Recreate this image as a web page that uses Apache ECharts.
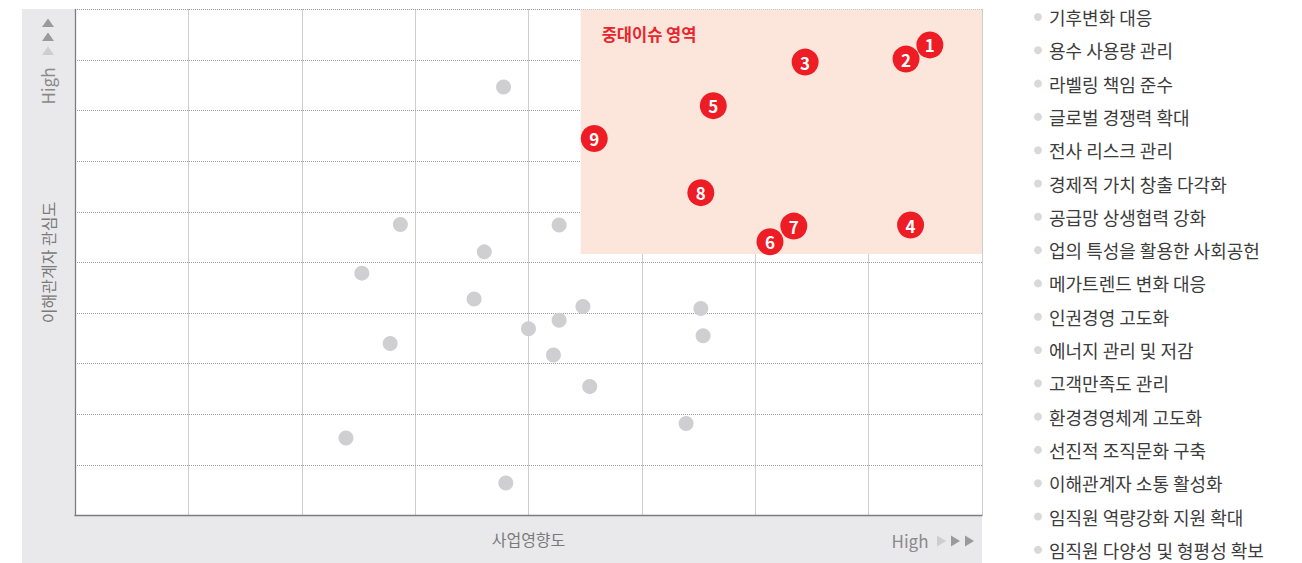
<!DOCTYPE html>
<html>
<head>
<meta charset="utf-8">
<script src="https://cdn.jsdelivr.net/npm/echarts@6/dist/echarts.min.js"></script>
<style>
html,body{margin:0;padding:0;background:#fff;}
#chart{width:1302px;height:563px;}
</style>
</head>
<body>
<div id="chart"></div>
<script>
// ---- data ----
const xAxisMax = 8;          // 8 columns
const yAxisMax = 10;         // 10 rows
const xAxisTitle = '사업영향도';
const yAxisTitle = '이해관계자 관심도';
const highLabel = 'High';
const focusLabel = '중대이슈 영역';

const issueNo = [1, 2, 3, 4, 5, 6, 7, 8, 9];
const issueX  = [7.54, 7.33, 6.44, 7.37, 5.63, 6.13, 6.34, 5.52, 4.58];
const issueY  = [9.30, 9.02, 8.96, 5.74, 8.10, 5.41, 5.72, 6.38, 7.45];

const otherX = [3.78, 2.87, 4.27, 3.61, 2.53, 3.52, 4.48, 5.52, 4.27, 4.00, 2.78, 5.54, 4.22, 4.54, 5.39, 2.39, 3.80];
const otherY = [8.47, 5.75, 5.74, 5.21, 4.79, 4.28, 4.13, 4.09, 3.86, 3.69, 3.40, 3.55, 3.17, 2.55, 1.82, 1.53, 0.64];

const focusFromX = 4.46;
const focusFromY = 5.17;

const legendNames = [
  '기후변화 대응', '용수 사용량 관리', '라벨링 책임 준수', '글로벌 경쟁력 확대',
  '전사 리스크 관리', '경제적 가치 창출 다각화', '공급망 상생협력 강화',
  '업의 특성을 활용한 사회공헌', '메가트렌드 변화 대응', '인권경영 고도화',
  '에너지 관리 및 저감', '고객만족도 관리', '환경경영체계 고도화',
  '선진적 조직문화 구축', '이해관계자 소통 활성화', '임직원 역량강화 지원 확대',
  '임직원 다양성 및 형평성 확보'
];

// ---- chart ----
const FONT = '"Noto Sans CJK KR", "Noto Sans", sans-serif';
const chart = echarts.init(document.getElementById('chart'), null, {renderer: 'svg'});

const issueData = issueNo.map((n, i) => [issueX[i], issueY[i], n]);
const otherData = otherX.map((x, i) => [x, otherY[i]]);

const legendSeries = legendNames.map(name => ({
  name: name, type: 'scatter', data: [], itemStyle: {color: '#cfcfd1'}
}));

const dark = '#9a9a9c', light = '#cdcdcf';

const option = {
  backgroundColor: 'transparent',
  animation: false,
  textStyle: {fontFamily: FONT},
  grid: {
    left: 75, top: 9.5, right: 320, bottom: 47.5,
    show: true, backgroundColor: '#ffffff', borderWidth: 0
  },
  xAxis: {
    type: 'value', min: 0, max: xAxisMax, interval: 1,
    name: xAxisTitle, nameLocation: 'middle', nameGap: 15,
    nameTextStyle: {color: '#7a7a7a', fontSize: 16, fontFamily: FONT},
    axisLine: {show: true, onZero: false, lineStyle: {color: '#7d7d7d', width: 1.3}},
    axisTick: {show: false}, axisLabel: {show: false},
    splitLine: {show: true, lineStyle: {color: '#9d9d9d', type: 'dotted', width: 1}}
  },
  yAxis: {
    type: 'value', min: 0, max: yAxisMax, interval: 1,
    name: yAxisTitle, nameLocation: 'middle', nameGap: 19,
    nameTextStyle: {color: '#7a7a7a', fontSize: 16, fontFamily: FONT},
    axisLine: {show: true, onZero: false, lineStyle: {color: '#7d7d7d', width: 1.3}},
    axisTick: {show: false}, axisLabel: {show: false},
    splitLine: {show: true, lineStyle: {color: '#9d9d9d', type: 'dotted', width: 1}}
  },
  legend: {
    show: true, orient: 'vertical', left: 1034, top: 7, height: 556, padding: 0,
    icon: 'circle', itemWidth: 8, itemHeight: 8, itemGap: 13.3,
    data: legendNames,
    selectedMode: false,
    textStyle: {color: '#3c3c3c', fontSize: 18, lineHeight: 20, fontFamily: FONT, padding: [0, 0, 0, 2]}
  },
  graphic: [
    {type: 'rect', z: -100, silent: true, shape: {x: 22, y: 9, width: 960, height: 554}, style: {fill: '#e9e9eb'}},
    // y-axis "High" with up arrows
    {type: 'polygon', silent: true, shape: {points: [[48, 18.5], [42, 27], [54, 27]]}, style: {fill: dark}},
    {type: 'polygon', silent: true, shape: {points: [[48, 32.5], [42, 41], [54, 41]]}, style: {fill: dark}},
    {type: 'polygon', silent: true, shape: {points: [[48, 46.5], [42, 55], [54, 55]]}, style: {fill: light}},
    {type: 'text', silent: true, x: 47, y: 86, rotation: Math.PI / 2,
      style: {text: highLabel, fill: '#8a8a8a', font: '17px ' + FONT, textAlign: 'center', textVerticalAlign: 'middle'}},
    // x-axis "High" with right arrows
    {type: 'text', silent: true, x: 910, y: 540,
      style: {text: highLabel, fill: '#8a8a8a', font: '17px ' + FONT, textAlign: 'center', textVerticalAlign: 'middle'}},
    {type: 'polygon', silent: true, shape: {points: [[937, 535.5], [946, 541], [937, 546.5]]}, style: {fill: light}},
    {type: 'polygon', silent: true, shape: {points: [[951, 535.5], [960, 541], [951, 546.5]]}, style: {fill: dark}},
    {type: 'polygon', silent: true, shape: {points: [[965, 535.5], [974, 541], [965, 546.5]]}, style: {fill: dark}}
  ],
  series: [
    {
      name: 'others', type: 'scatter', symbolSize: 15, z: 3,
      itemStyle: {color: '#cfcfd1', opacity: 1},
      data: otherData,
      markArea: {
        silent: true,
        itemStyle: {color: '#fce5da'},
        label: {show: true, position: [21, 16], color: '#e8262d', fontSize: 16.5, fontWeight: 'bold', fontFamily: FONT},
        data: [[{name: focusLabel, xAxis: focusFromX, yAxis: focusFromY}, {xAxis: xAxisMax, yAxis: yAxisMax}]]
      }
    },
    {
      name: 'issues', type: 'scatter', symbolSize: 27, z: 4,
      itemStyle: {color: '#ee1c25', opacity: 1},
      label: {show: true, position: 'inside', color: '#ffffff', fontSize: 17, fontWeight: 'bold', fontFamily: FONT,
        formatter: p => String(p.data[2])},
      data: issueData
    }
  ].concat(legendSeries)
};
chart.setOption(option);
</script>
</body>
</html>
